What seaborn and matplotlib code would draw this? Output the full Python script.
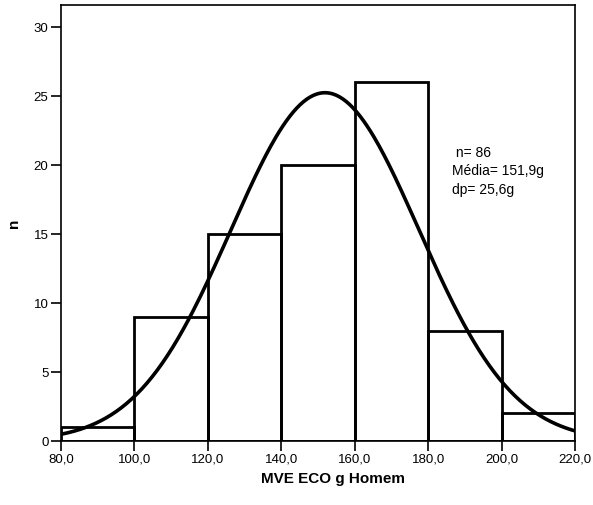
import numpy as np
import pandas as pd
import matplotlib
matplotlib.use("Agg")
import matplotlib.pyplot as plt
import seaborn as sns

# Data
bin_edges = [80, 100, 120, 140, 160, 180, 200, 220]
counts = [1, 9, 15, 20, 26, 8, 2]
mean_val = 151.9
sd_val = 25.6
x_ticks = [80, 100, 120, 140, 160, 180, 200, 220]
x_tick_labels = ["80,0", "100,0", "120,0", "140,0", "160,0", "180,0", "200,0", "220,0"]
y_ticks = [0, 5, 10, 15, 20, 25, 30]
stats_text = " n= 86\nMédia= 151,9g\ndp= 25,6g"

sns.set_theme(style="white")
plt.rcParams['font.family'] = ['Liberation Sans', 'DejaVu Sans']

fig = plt.figure(figsize=(5.93, 5.05), dpi=100)
ax = fig.add_axes([0.1029, 0.1267, 0.9696 - 0.1029, 0.990 - 0.1267])

centers = [(a + b) / 2 for a, b in zip(bin_edges[:-1], bin_edges[1:])]
df = pd.DataFrame({"x": centers, "w": counts})
sns.histplot(data=df, x="x", weights="w", bins=bin_edges, fill=False,
             element="bars", color="black", edgecolor="black", linewidth=2, ax=ax)

# fitted normal curve
total = sum(counts)
width = bin_edges[1] - bin_edges[0]
xs = np.linspace(80, 220, 300)
ys = total * width / (sd_val * np.sqrt(2 * np.pi)) * np.exp(-0.5 * ((xs - mean_val) / sd_val) ** 2)
sns.lineplot(x=xs, y=ys, color="black", linewidth=2.6, ax=ax)

ax.set_xlim(80, 220)
ax.set_ylim(0, 31.6)
ax.set_xticks(x_ticks)
ax.set_xticklabels(x_tick_labels)
ax.set_yticks(y_ticks)
ax.tick_params(axis="both", direction="out", length=7, width=1.2, color="black",
               labelsize=9.5, labelcolor="black", bottom=True, left=True, pad=2)
for s in ax.spines.values():
    s.set_color("black")
    s.set_linewidth(1.2)

ax.set_xlabel("MVE ECO g Homem", fontsize=11, fontweight="bold", labelpad=6, color="black")
ax.xaxis.set_label_coords(0.53, -0.07)
ax.set_ylabel("n", fontsize=11, fontweight="bold", labelpad=9, color="black")

ax.text(186.4, 21.4, stats_text, fontsize=10, va="top", ha="left", linespacing=1.4, color="black")

fig.savefig("out.png", dpi=100)
